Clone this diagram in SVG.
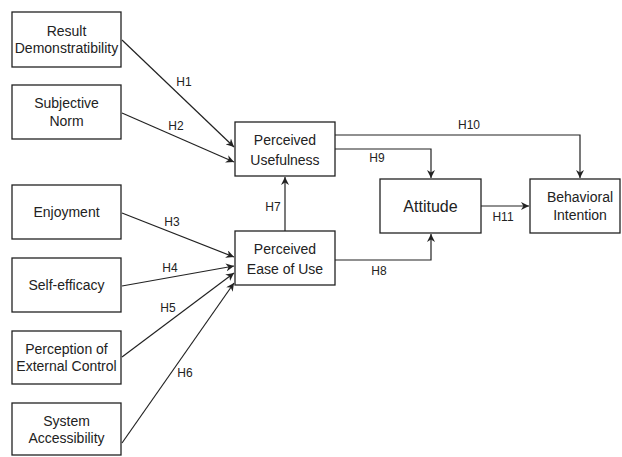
<svg xmlns="http://www.w3.org/2000/svg" width="622" height="457" viewBox="0 0 622 457">
<style>
.box{fill:#fff;stroke:#222;stroke-width:1.3}
.t{font-family:"Liberation Sans",Arial,sans-serif;font-size:14px;fill:#222;text-anchor:middle}
.big{font-size:16px}
.lbl{font-family:"Liberation Sans",Arial,sans-serif;font-size:12px;fill:#222;text-anchor:middle}
.c{fill:none;stroke:#222;stroke-width:1.2;marker-end:url(#ah)}
</style>
<defs>
<marker id="ah" viewBox="0 0 10 10" refX="10" refY="5" markerWidth="8" markerHeight="8" markerUnits="userSpaceOnUse" orient="auto">
<path d="M0,0 L10,5 L0,10 L3,5 Z" fill="#222"/>
</marker>
</defs>
<rect width="622" height="457" fill="#fff"/>
<g id="connectors">
<line class="c" x1="122" y1="40" x2="234" y2="147"/>
<line class="c" x1="122" y1="113" x2="234" y2="162"/>
<line class="c" x1="122" y1="213" x2="234" y2="257"/>
<line class="c" x1="122" y1="286" x2="234" y2="266"/>
<line class="c" x1="122" y1="357" x2="234" y2="273"/>
<line class="c" x1="122" y1="443" x2="234" y2="283"/>
<line class="c" x1="285" y1="231" x2="285" y2="177"/>
<polyline class="c" points="335,135 580,135 580,178"/>
<polyline class="c" points="335,149 431,149 431,178"/>
<polyline class="c" points="335,260 431,260 431,234"/>
<line class="c" x1="481" y1="206" x2="529" y2="206"/>
<text class="lbl" x="184" y="86">H1</text>
<text class="lbl" x="176" y="130">H2</text>
<text class="lbl" x="172" y="226">H3</text>
<text class="lbl" x="170" y="272">H4</text>
<text class="lbl" x="168" y="312">H5</text>
<text class="lbl" x="185" y="377">H6</text>
<text class="lbl" x="273" y="211">H7</text>
<text class="lbl" x="379" y="275">H8</text>
<text class="lbl" x="377" y="162">H9</text>
<text class="lbl" x="469" y="129">H10</text>
<text class="lbl" x="503" y="221">H11</text>
</g>
<g id="result-demonstratibility">
<rect class="box" x="12" y="12" width="109" height="55"/>
<text class="t" x="66.5" y="36">Result</text>
<text class="t" x="66.5" y="53">Demonstratibility</text>
</g>
<g id="subjective-norm">
<rect class="box" x="12" y="85" width="109" height="54"/>
<text class="t" x="66.5" y="108">Subjective</text>
<text class="t" x="66.5" y="126">Norm</text>
</g>
<g id="enjoyment">
<rect class="box" x="12" y="185" width="109" height="54"/>
<text class="t" x="66.5" y="217">Enjoyment</text>
</g>
<g id="self-efficacy">
<rect class="box" x="12" y="258" width="109" height="54"/>
<text class="t" x="66.5" y="290">Self-efficacy</text>
</g>
<g id="perception-external-control">
<rect class="box" x="12" y="331" width="109" height="53"/>
<text class="t" x="66.5" y="354">Perception of</text>
<text class="t" x="66.5" y="371">External Control</text>
</g>
<g id="system-accessibility">
<rect class="box" x="12" y="403" width="109" height="52"/>
<text class="t" x="66.5" y="426">System</text>
<text class="t" x="66.5" y="443">Accessibility</text>
</g>
<g id="perceived-usefulness">
<rect class="box" x="235" y="122" width="100" height="54"/>
<text class="t" x="285" y="145">Perceived</text>
<text class="t" x="285" y="165">Usefulness</text>
</g>
<g id="perceived-ease-of-use">
<rect class="box" x="235" y="231" width="100" height="54"/>
<text class="t" x="285" y="254">Perceived</text>
<text class="t" x="285" y="274">Ease of Use</text>
</g>
<g id="attitude">
<rect class="box" x="380" y="179" width="101" height="54"/>
<text class="t big" x="430.5" y="212">Attitude</text>
</g>
<g id="behavioral-intention">
<rect class="box" x="530" y="179" width="90" height="54"/>
<text class="t" x="580" y="202">Behavioral</text>
<text class="t" x="580" y="220">Intention</text>
</g>
</svg>
